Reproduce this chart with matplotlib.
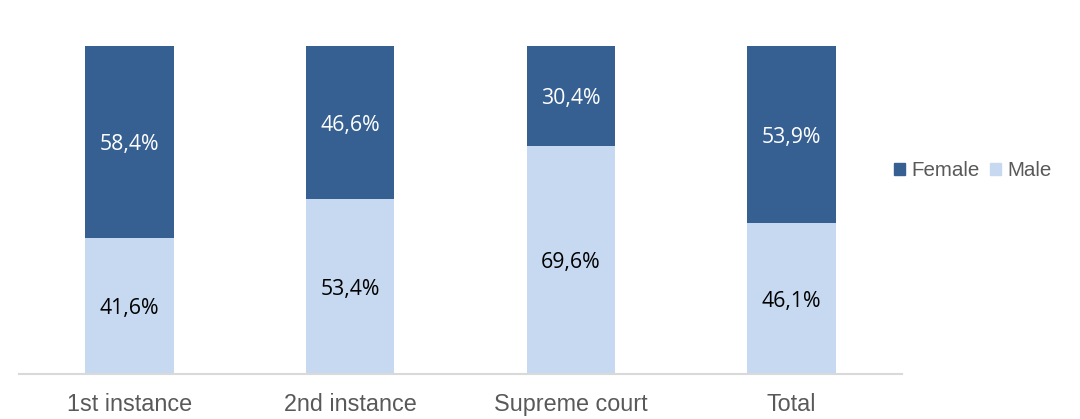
import matplotlib
matplotlib.use("Agg")
import matplotlib.pyplot as plt
from matplotlib.patches import Patch
from matplotlib.transforms import offset_copy

categories = ["1st instance", "2nd instance", "Supreme court", "Total"]
male = [41.6, 53.4, 69.6, 46.1]
female = [58.4, 46.6, 30.4, 53.9]
male_labels = ["41,6%", "53,4%", "69,6%", "46,1%"]
female_labels = ["58,4%", "46,6%", "30,4%", "53,9%"]

c_female = "#366092"
c_male = "#C6D9F1"

fig = plt.figure(figsize=(10.8, 4.19), dpi=100)
ax = fig.add_axes([19/1080, 1-374/419, (902-19)/1080, (374-46)/419])

x = list(range(len(categories)))
w = 0.4
ax.bar(x, male, width=w, color=c_male, label="Male")
ax.bar(x, female, width=w, bottom=male, color=c_female, label="Female")

tr = offset_copy(ax.transData, fig=fig, x=0, y=-3, units="dots")
for i in x:
    ax.text(i, male[i]/2, male_labels[i], ha="center", va="center", transform=tr,
            fontsize=15.3, color="black", family="Open Sans")
    ax.text(i, male[i] + female[i]/2, female_labels[i], ha="center", va="center",
            transform=tr, fontsize=15.3, color="white", family="Open Sans")

ax.set_xlim(-0.5, len(categories) - 0.5)
ax.set_ylim(0, 100)
ax.set_yticks([])
ax.set_xticks(x)
ax.set_xticklabels(categories, fontsize=16.8, color="#595959", family="Liberation Sans")
ax.tick_params(axis="x", length=0, pad=14)
for s in ["top", "right", "left"]:
    ax.spines[s].set_visible(False)
ax.spines["bottom"].set_color("#D9D9D9")
ax.spines["bottom"].set_linewidth(1.5)

handles = [Patch(color=c_female, label="Female"), Patch(color=c_male, label="Male")]
leg = fig.legend(handles=handles, loc="center", bbox_to_anchor=(973/1080, 1-171/419),
                 ncol=2, frameon=False, handlelength=0.55, handleheight=0.55,
                 handletextpad=0.3, columnspacing=0.5,
                 prop={"family": "Liberation Sans", "size": 14.8})
for t in leg.get_texts():
    t.set_color("#595959")

fig.savefig("out.png", dpi=100)
